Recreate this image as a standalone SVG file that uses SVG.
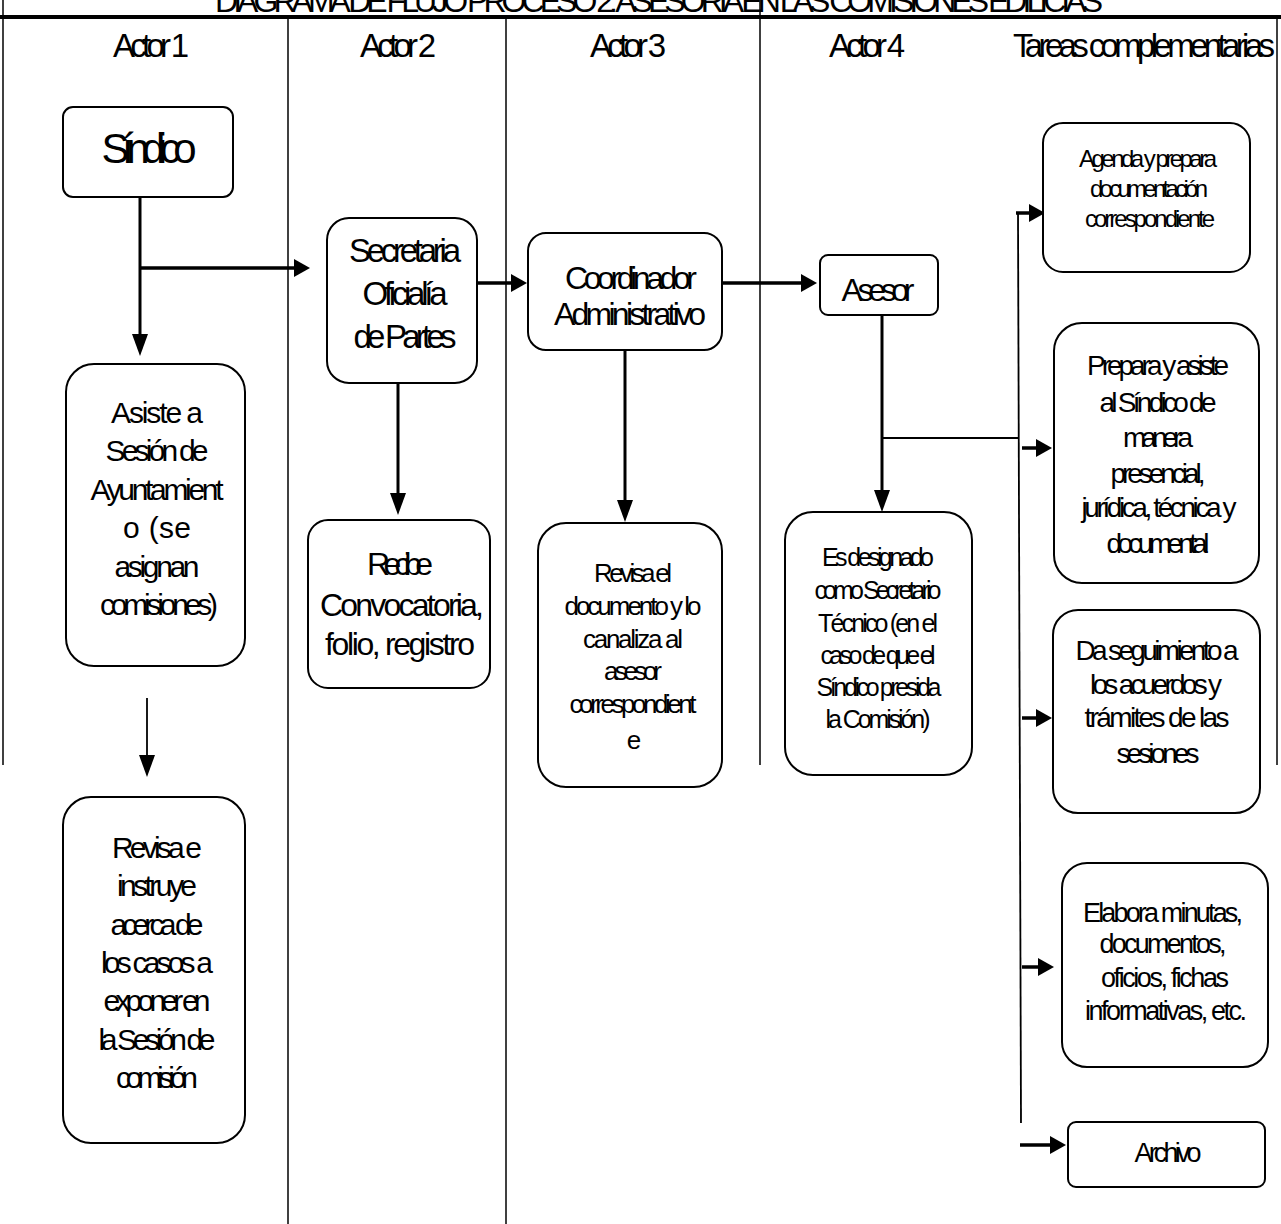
<svg xmlns="http://www.w3.org/2000/svg" width="1281" height="1224" viewBox="0 0 1281 1224">
  <style>
    .bg { fill: #fff; }
    .box { fill: #fff; stroke: #000; stroke-width: 2; }
    .t { font-family: "Liberation Sans", Arial, sans-serif; text-anchor: middle; fill: #000; }
    .lane { stroke: #000; stroke-width: 1.5; fill: none; }
    .bar { stroke: #000; stroke-width: 4; }
    .flow { stroke: #000; stroke-width: 3.5; fill: none; }
    .flowv { stroke: #000; stroke-width: 3; fill: none; }
    .thin { stroke: #000; stroke-width: 1.8; fill: none; }
  </style>
  <defs>
    <marker id="ah" markerUnits="userSpaceOnUse" markerWidth="16" markerHeight="18" refX="4" refY="9" orient="auto">
      <path d="M0,0 L16,9 L0,18 z" fill="#000"/>
    </marker>
    <marker id="ahv" markerUnits="userSpaceOnUse" markerWidth="22" markerHeight="16" refX="4" refY="8" orient="auto">
      <path d="M0,0 L22,8 L0,16 z" fill="#000"/>
    </marker>
  </defs>

  <rect class="bg" x="0" y="0" width="1281" height="1224"/>

  <!-- title and swimlane frame -->
  <g id="frame">
    <text class="t" x="659" y="12" font-size="32" textLength="888" lengthAdjust="spacing">DIAGRAMA DE FLUJO PROCESO 2: ASESORÍA EN LAS COMISIONES EDILICIAS</text>
    <line class="bar" x1="0" y1="17" x2="1281" y2="17"/>
    <line class="lane" x1="3" y1="0" x2="3" y2="765"/>
    <line class="lane" x1="288" y1="19" x2="288" y2="1224"/>
    <line class="lane" x1="506" y1="19" x2="506" y2="1224"/>
    <line class="lane" x1="760" y1="0" x2="760" y2="765"/>
    <line class="lane" x1="1277" y1="19" x2="1277" y2="765"/>
    <text class="t" x="151" y="57" font-size="33" textLength="76" lengthAdjust="spacing">Actor 1</text>
    <text class="t" x="398" y="57" font-size="33" textLength="76" lengthAdjust="spacing">Actor 2</text>
    <text class="t" x="628" y="57" font-size="33" textLength="76" lengthAdjust="spacing">Actor 3</text>
    <text class="t" x="867" y="57" font-size="33" textLength="76" lengthAdjust="spacing">Actor 4</text>
    <text class="t" x="1144" y="57" font-size="33" textLength="262" lengthAdjust="spacing">Tareas complementarias</text>
  </g>

  <!-- connectors -->
  <g id="connectors">
    <line class="flowv" x1="140" y1="197" x2="140" y2="338" marker-end="url(#ahv)"/>
    <line class="flow" x1="140" y1="268" x2="298" y2="268" marker-end="url(#ah)"/>
    <line class="flow" x1="477" y1="283" x2="515" y2="283" marker-end="url(#ah)"/>
    <line class="flow" x1="722" y1="283" x2="805" y2="283" marker-end="url(#ah)"/>
    <line class="flowv" x1="398" y1="383" x2="398" y2="497" marker-end="url(#ahv)"/>
    <line class="flowv" x1="625" y1="350" x2="625" y2="504" marker-end="url(#ahv)"/>
    <line class="flowv" x1="882" y1="315" x2="882" y2="494" marker-end="url(#ahv)"/>
    <line class="thin" x1="147" y1="698" x2="147" y2="759" marker-end="url(#ahv)"/>
    <line class="thin" x1="882" y1="438" x2="1018" y2="438"/>
    <line class="thin" x1="1018" y1="212" x2="1021" y2="1123"/>
    <line class="flow" x1="1016" y1="213" x2="1033" y2="213" marker-end="url(#ah)"/>
    <line class="flow" x1="1022" y1="448" x2="1040" y2="448" marker-end="url(#ah)"/>
    <line class="flow" x1="1022" y1="718" x2="1040" y2="718" marker-end="url(#ah)"/>
    <line class="flow" x1="1022" y1="967" x2="1042" y2="967" marker-end="url(#ah)"/>
    <line class="flow" x1="1020" y1="1145" x2="1054" y2="1145" marker-end="url(#ah)"/>
  </g>

  <!-- Actor 1 -->
  <g id="sindico">
    <rect class="box" x="63" y="107" width="170" height="90" rx="10"/>
    <text class="t" x="149" y="163" font-size="42" textLength="95" lengthAdjust="spacing">Síndico</text>
  </g>
  <g id="asiste-sesion">
    <rect class="box" x="66" y="364" width="179" height="302" rx="28"/>
    <g class="t" font-size="30">
      <text x="157" y="423" textLength="92" lengthAdjust="spacing">Asiste a</text>
      <text x="157" y="461" textLength="103" lengthAdjust="spacing">Sesión de</text>
      <text x="157" y="500" textLength="133" lengthAdjust="spacing">Ayuntamient</text>
      <text x="157" y="538" textLength="68" lengthAdjust="spacing">o (se</text>
      <text x="157" y="577" textLength="85" lengthAdjust="spacing">asignan</text>
      <text x="159" y="615" textLength="118" lengthAdjust="spacing">comisiones)</text>
    </g>
  </g>
  <g id="revisa-instruye">
    <rect class="box" x="63" y="797" width="182" height="346" rx="28"/>
    <g class="t" font-size="30">
      <text x="157" y="858" textLength="90" lengthAdjust="spacing">Revisa e</text>
      <text x="157" y="896" textLength="80" lengthAdjust="spacing">instruye</text>
      <text x="157" y="935" textLength="93" lengthAdjust="spacing">acerca de</text>
      <text x="157" y="973" textLength="112" lengthAdjust="spacing">los casos a</text>
      <text x="157" y="1011" textLength="107" lengthAdjust="spacing">exponer en</text>
      <text x="157" y="1050" textLength="117" lengthAdjust="spacing">la Sesión de</text>
      <text x="157" y="1088" textLength="82" lengthAdjust="spacing">comisión</text>
    </g>
  </g>

  <!-- Actor 2 -->
  <g id="secretaria">
    <rect class="box" x="327" y="218" width="150" height="165" rx="22"/>
    <g class="t" font-size="33">
      <text x="405" y="262" textLength="112" lengthAdjust="spacing">Secretaria</text>
      <text x="405" y="305" textLength="85" lengthAdjust="spacing">Oficialía</text>
      <text x="405" y="348" textLength="103" lengthAdjust="spacing">de Partes</text>
    </g>
  </g>
  <g id="recibe">
    <rect class="box" x="308" y="520" width="182" height="168" rx="20"/>
    <g class="t" font-size="32">
      <text x="400" y="575" textLength="66" lengthAdjust="spacing">Recibe</text>
      <text x="402" y="616" textLength="164" lengthAdjust="spacing">Convocatoria,</text>
      <text x="400" y="655" textLength="150" lengthAdjust="spacing">folio, registro</text>
    </g>
  </g>

  <!-- Actor 3 -->
  <g id="coordinador">
    <rect class="box" x="528" y="233" width="194" height="117" rx="18"/>
    <g class="t" font-size="32">
      <text x="631" y="289" textLength="132" lengthAdjust="spacing">Coordinador</text>
      <text x="630" y="325" textLength="152" lengthAdjust="spacing">Administrativo</text>
    </g>
  </g>
  <g id="revisa-canaliza">
    <rect class="box" x="538" y="523" width="184" height="264" rx="28"/>
    <g class="t" font-size="26">
      <text x="633" y="582" textLength="78" lengthAdjust="spacing">Revisa el</text>
      <text x="633" y="615" textLength="137" lengthAdjust="spacing">documento y lo</text>
      <text x="633" y="648" textLength="100" lengthAdjust="spacing">canaliza al</text>
      <text x="633" y="680" textLength="58" lengthAdjust="spacing">asesor</text>
      <text x="633" y="713" textLength="127" lengthAdjust="spacing">correspondient</text>
      <text x="634" y="749">e</text>
    </g>
  </g>

  <!-- Actor 4 -->
  <g id="asesor">
    <rect class="box" x="820" y="255" width="118" height="60" rx="8"/>
    <text class="t" x="878" y="301" font-size="32" textLength="73" lengthAdjust="spacing">Asesor</text>
  </g>
  <g id="secretario-tecnico">
    <rect class="box" x="785" y="512" width="187" height="263" rx="28"/>
    <g class="t" font-size="25">
      <text x="878" y="566" textLength="112" lengthAdjust="spacing">Es designado</text>
      <text x="878" y="599" textLength="127" lengthAdjust="spacing">como Secretario</text>
      <text x="878" y="632" textLength="120" lengthAdjust="spacing">Técnico (en el</text>
      <text x="878" y="664" textLength="115" lengthAdjust="spacing">caso de que el</text>
      <text x="879" y="696" textLength="125" lengthAdjust="spacing">Síndico presida</text>
      <text x="878" y="728" textLength="105" lengthAdjust="spacing">la Comisión)</text>
    </g>
  </g>

  <!-- Tareas complementarias -->
  <g id="agenda">
    <rect class="box" x="1043" y="123" width="207" height="149" rx="20"/>
    <g class="t" font-size="24">
      <text x="1148" y="167" textLength="138" lengthAdjust="spacing">Agenda y prepara</text>
      <text x="1149" y="197" textLength="118" lengthAdjust="spacing">documentación</text>
      <text x="1150" y="227" textLength="130" lengthAdjust="spacing">correspondiente</text>
    </g>
  </g>
  <g id="prepara-asiste">
    <rect class="box" x="1054" y="323" width="205" height="260" rx="28"/>
    <g class="t" font-size="28">
      <text x="1158" y="375" textLength="142" lengthAdjust="spacing">Prepara y asiste</text>
      <text x="1158" y="412" textLength="117" lengthAdjust="spacing">al Síndico de</text>
      <text x="1158" y="447" textLength="70" lengthAdjust="spacing">manera</text>
      <text x="1158" y="483" textLength="95" lengthAdjust="spacing">presencial,</text>
      <text x="1159" y="517" textLength="155" lengthAdjust="spacing">jurídica, técnica y</text>
      <text x="1158" y="553" textLength="103" lengthAdjust="spacing">documental</text>
    </g>
  </g>
  <g id="seguimiento">
    <rect class="box" x="1053" y="610" width="207" height="203" rx="25"/>
    <g class="t" font-size="28">
      <text x="1157" y="660" textLength="163" lengthAdjust="spacing">Da seguimiento a</text>
      <text x="1156" y="694" textLength="132" lengthAdjust="spacing">los acuerdos y</text>
      <text x="1157" y="727" textLength="145" lengthAdjust="spacing">trámites de las</text>
      <text x="1158" y="763" textLength="83" lengthAdjust="spacing">sesiones</text>
    </g>
  </g>
  <g id="elabora">
    <rect class="box" x="1062" y="863" width="206" height="204" rx="25"/>
    <g class="t" font-size="27">
      <text x="1163" y="922" textLength="160" lengthAdjust="spacing">Elabora minutas,</text>
      <text x="1163" y="953" textLength="127" lengthAdjust="spacing">documentos,</text>
      <text x="1165" y="987" textLength="128" lengthAdjust="spacing">oficios, fichas</text>
      <text x="1166" y="1020" textLength="162" lengthAdjust="spacing">informativas, etc.</text>
    </g>
  </g>
  <g id="archivo">
    <rect class="box" x="1068" y="1122" width="197" height="65" rx="8"/>
    <text class="t" x="1168" y="1162" font-size="27" textLength="67" lengthAdjust="spacing">Archivo</text>
  </g>
</svg>
